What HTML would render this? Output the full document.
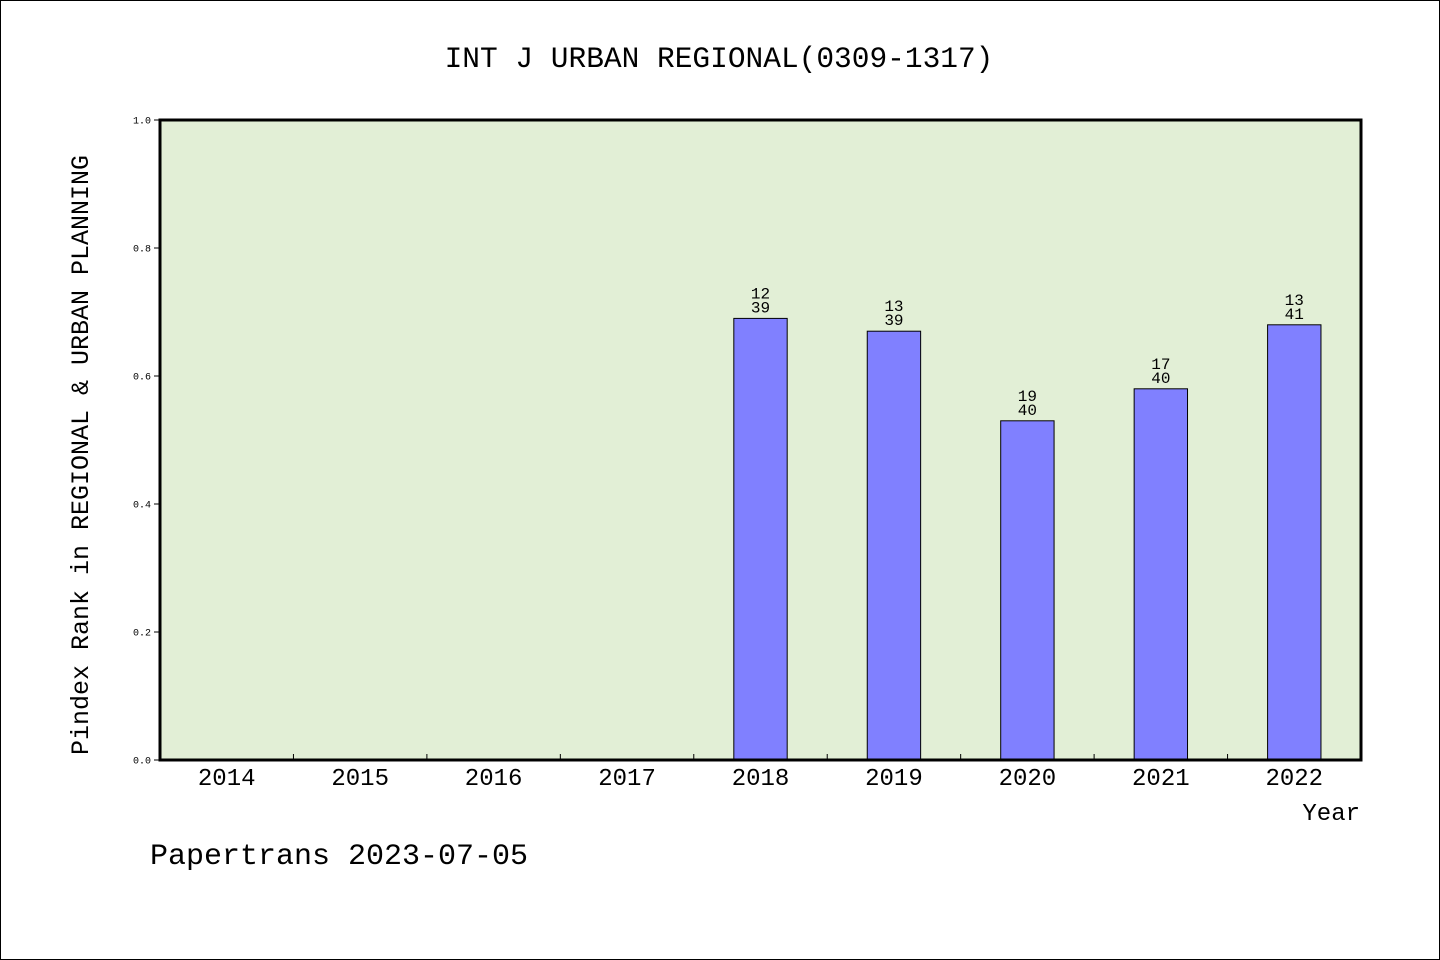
<!DOCTYPE html>
<html><head><meta charset="utf-8"><style>
body{margin:0;background:#fff}
svg{display:block}
text{font-family:"Liberation Mono",monospace;fill:#000}
</style></head><body>
<svg id="chart" width="1440" height="960" xmlns="http://www.w3.org/2000/svg">
<rect x="0.5" y="0.5" width="1439" height="959" fill="#fff" stroke="#000"/>
<text x="719" y="67" font-size="29.5" text-anchor="middle">INT J URBAN REGIONAL(0309-1317)</text>
<rect x="160" y="120" width="1201" height="640" fill="#e2efd6"/>
<g id="bars"></g>
<g id="axes"></g>
<rect x="160" y="120" width="1201" height="640" fill="none" stroke="#000" stroke-width="3"/>
<text transform="translate(88,455) rotate(-90)" font-size="25" text-anchor="middle">Pindex Rank in REGIONAL &amp; URBAN PLANNING</text>
<text x="1360" y="820" font-size="24" text-anchor="end">Year</text>
<text x="150" y="864" font-size="30">Papertrans 2023-07-05</text>
</svg>
<script>
const categories=["2014","2015","2016","2017","2018","2019","2020","2021","2022"];
const values=[null,null,null,null,0.69,0.67,0.53,0.58,0.68];
const ranks=[null,null,null,null,"12","13","19","17","13"];
const totals=[null,null,null,null,"39","39","40","40","41"];
const yTicks=[0,0.2,0.4,0.6,0.8,1.0];
const yTickLabels=["0.0","0.2","0.4","0.6","0.8","1.0"];
const NS="http://www.w3.org/2000/svg";
const X0=160,X1=1361,Y0=760,Y1=120;
const band=(X1-X0)/categories.length;
const xc=i=>X0+band*(i+0.5);
const y=v=>Y0-(v)*(Y0-Y1);
function mk(tag,attrs,parent){const e=document.createElementNS(NS,tag);for(const k in attrs)e.setAttribute(k,attrs[k]);parent.appendChild(e);return e;}
const gb=document.getElementById('bars'),ga=document.getElementById('axes');
values.forEach((v,i)=>{
 if(v==null)return;
 const w=band*0.4;
 const r=mk('rect',{x:xc(i)-w/2,y:y(v),width:w,height:Y0-y(v),fill:'#8080ff',stroke:'#000','stroke-width':1},gb);
 
 
 const t1=mk('text',{x:xc(i),y:y(v)-20,'font-size':16,'text-anchor':'middle'},gb);t1.textContent=ranks[i];
 
 
 const t2=mk('text',{x:xc(i),y:y(v)-6,'font-size':16,'text-anchor':'middle'},gb);t2.textContent=totals[i];
 
 
});
categories.forEach((c,i)=>{
 const t=mk('text',{x:xc(i),y:785,'font-size':24,'text-anchor':'middle'},ga);t.textContent=c;
 
 
 if(i>0){const l=mk('line',{x1:X0+band*i,x2:X0+band*i,y1:Y0,y2:Y0-6,stroke:'#000'},ga);
 
 }
});
yTicks.forEach((v,i)=>{
 const l=mk('line',{x1:X0-6,x2:X0,y1:y(v),y2:y(v),stroke:'#000'},ga);
 
 
 const t=mk('text',{x:X0-9,y:y(v)+3.5,'font-size':10,'text-anchor':'end'},ga);t.textContent=yTickLabels[i];
 
 
});
</script>
</body></html>
